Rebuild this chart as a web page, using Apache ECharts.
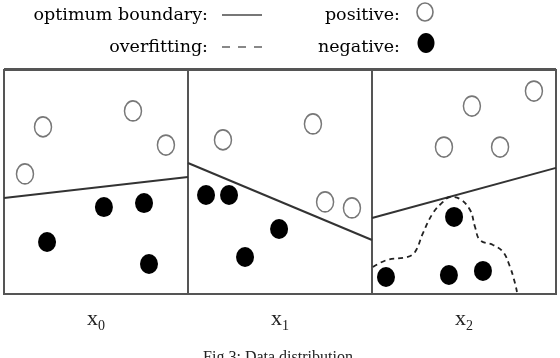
<!DOCTYPE html>
<html>
<head>
<meta charset="utf-8">
<script src="https://cdn.jsdelivr.net/npm/echarts@6/dist/echarts.min.js"></script>
<style>
  html, body { margin: 0; padding: 0; background: #fff; }
  #chart { width: 560px; height: 358px; }
</style>
</head>
<body>
<div id="chart"></div>
<script>
// feature-space coordinates, each panel on a 0..10 x 0..10 plane
const panelSubs = ["0", "1", "2"];

const positive0 = [[2.12, 7.46], [7.01, 8.17], [8.80, 6.65], [1.14, 5.36]];
const negative0 = [[5.43, 3.88], [7.61, 4.06], [2.34, 2.32], [7.88, 1.34]];
const boundary0 = [[0, 4.29], [10, 5.22]];

const positive1 = [[1.90, 6.88], [6.79, 7.59], [7.45, 4.11], [8.91, 3.84]];
const negative1 = [[0.98, 4.42], [2.23, 4.42], [4.95, 2.90], [3.10, 1.65]];
const boundary1 = [[0, 5.85], [10, 2.41]];

const positive2 = [[8.80, 9.06], [5.43, 8.39], [3.91, 6.56], [6.96, 6.56]];
const negative2 = [[4.46, 3.44], [0.76, 0.76], [4.18, 0.85], [6.03, 1.03]];
const boundary2 = [[0, 3.39], [10, 5.63]];
const overfit2 = [
  [0.05, 1.21], [0.82, 1.52], [1.90, 1.65], [2.34, 1.88], [2.77, 2.72],
  [3.32, 3.62], [3.86, 4.11], [4.24, 4.33], [4.78, 4.24], [5.33, 3.75],
  [5.60, 2.99], [5.87, 2.41], [6.58, 2.19], [7.12, 1.88], [7.50, 1.21],
  [7.77, 0.49], [7.88, 0.09]
];

const panels = [
  { pos: positive0, neg: negative0, line: boundary0 },
  { pos: positive1, neg: negative1, line: boundary1 },
  { pos: positive2, neg: negative2, line: boundary2, overfit: overfit2 }
];

const SERIF = "'DejaVu Serif', serif";
const LABEL_FONT = "'Liberation Serif', serif";

const grids = [], xAxes = [], yAxes = [], series = [];

panels.forEach((p, i) => {
  grids.push({
    left: 4 + i * 184, top: 70, width: 184, height: 224,
    show: true, borderColor: "#555", borderWidth: 2, backgroundColor: "#fff"
  });
  xAxes.push({
    gridIndex: i, type: "value", min: 0, max: 10,
    axisLine: { show: false }, axisTick: { show: false },
    axisLabel: { show: false }, splitLine: { show: false },
    name: "{b|x}{s|" + panelSubs[i] + "}",
    nameLocation: "middle", nameGap: 11,
    nameTextStyle: {
      rich: {
        b: { fontFamily: LABEL_FONT, fontSize: 22, color: "#222" },
        s: { fontFamily: LABEL_FONT, fontSize: 14, color: "#222", padding: [14, 0, 0, 0] }
      }
    }
  });
  yAxes.push({
    gridIndex: i, type: "value", min: 0, max: 10,
    axisLine: { show: false }, axisTick: { show: false },
    axisLabel: { show: false }, splitLine: { show: false }
  });

  series.push({
    type: "line", xAxisIndex: i, yAxisIndex: i, data: p.line,
    symbol: "none", silent: true,
    lineStyle: { color: "#333", width: 2 }
  });
  if (p.overfit) {
    series.push({
      type: "line", xAxisIndex: i, yAxisIndex: i, data: p.overfit,
      symbol: "none", smooth: 0.4, silent: true,
      lineStyle: { color: "#222", width: 1.8, type: [5, 4] }
    });
  }
  series.push({
    type: "scatter", xAxisIndex: i, yAxisIndex: i, data: p.pos,
    symbol: "circle", symbolSize: [17, 20],
    itemStyle: { color: "#fff", borderColor: "#777", borderWidth: 1.6, opacity: 1 }
  });
  series.push({
    type: "scatter", xAxisIndex: i, yAxisIndex: i, data: p.neg,
    symbol: "circle", symbolSize: [18, 20],
    itemStyle: { color: "#000", opacity: 1 }
  });
});

const legendText = (text, x, y) => ({
  type: "text", x, y,
  style: { text, align: "right", verticalAlign: "middle", font: "17.5px " + SERIF, fill: "#000" }
});

const option = {
  animation: false,
  backgroundColor: "#fff",
  grid: grids,
  xAxis: xAxes,
  yAxis: yAxes,
  series,
  graphic: [
    legendText("optimum boundary:", 208, 15),
    legendText("overfitting:", 208, 47),
    legendText("positive:", 400, 15),
    legendText("negative:", 400, 47),
    { type: "line", shape: { x1: 222, y1: 15, x2: 262, y2: 15 }, style: { stroke: "#777", lineWidth: 2 } },
    { type: "line", shape: { x1: 222, y1: 47, x2: 262, y2: 47 }, style: { stroke: "#888", lineWidth: 2, lineDash: [8, 8] } },
    { type: "ellipse", shape: { cx: 425, cy: 12, rx: 8, ry: 9 }, style: { fill: "#fff", stroke: "#777", lineWidth: 1.6 } },
    { type: "ellipse", shape: { cx: 426, cy: 43, rx: 8.5, ry: 10 }, style: { fill: "#000" } },
    { type: "line", shape: { x1: 4, y1: 69, x2: 556, y2: 69 }, style: { stroke: "#555", lineWidth: 2 } },
    { type: "text", x: 278, y: 350, style: { text: "Fig 3: Data distribution", align: "center", verticalAlign: "top", font: "16px " + LABEL_FONT, fill: "#222" } }
  ]
};

const chart = echarts.init(document.getElementById("chart"), null, { renderer: "canvas" });
chart.setOption(option);
</script>
</body>
</html>
